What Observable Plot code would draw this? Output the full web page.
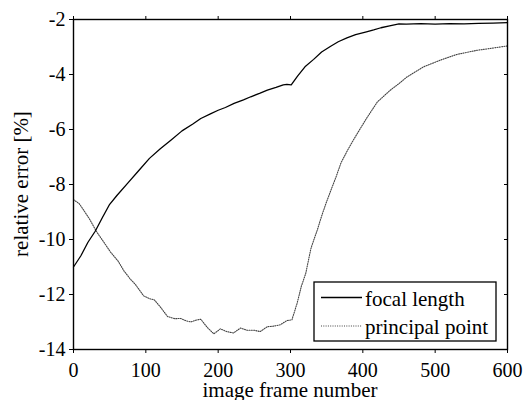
<!DOCTYPE html>
<html>
<head>
<meta charset="utf-8">
<script src="https://cdn.jsdelivr.net/npm/d3@7"></script>
<script src="https://cdn.jsdelivr.net/npm/@observablehq/plot@0.6"></script>
<style>
  body { margin: 0; background: #fff; font-family: "Liberation Serif"; }
  #chart { width: 525px; height: 400px; font-family: "Liberation Serif"; }
</style>
</head>
<body>
<div id="chart"></div>
<script>
// ---- data ----
const focalFrames = [0,10,20,30,40,50,60,75,90,105,120,135,150,165,176,190,200,210,222,235,245,258,268,280,290,295,301,310,320,332,343,355,366,378,390,405,415,425,437,450,460,480,500,520,540,560,580,600];
const focalError  = [-11.0,-10.6,-10.1,-9.7,-9.2,-8.72,-8.4,-7.95,-7.5,-7.05,-6.7,-6.38,-6.05,-5.8,-5.6,-5.42,-5.3,-5.2,-5.05,-4.92,-4.81,-4.68,-4.57,-4.47,-4.38,-4.36,-4.38,-4.05,-3.72,-3.45,-3.18,-2.98,-2.81,-2.67,-2.55,-2.45,-2.38,-2.3,-2.23,-2.16,-2.17,-2.15,-2.17,-2.15,-2.16,-2.14,-2.13,-2.11];

const ppFrames = [0,8,14,22,32,42,51,62,70,78,86,97,105,112,120,130,140,148,155,162,170,176,185,194,203,212,221,231,240,250,258,268,277,286,295,302,309,315,321,328,332,337,343,349,356,363,370,379,387,395,405,420,438,450,461,484,507,530,558,577,600];
const ppError  = [-8.55,-8.7,-8.93,-9.25,-9.72,-10.1,-10.45,-10.8,-11.15,-11.42,-11.65,-12.05,-12.15,-12.2,-12.45,-12.8,-12.88,-12.87,-12.95,-13.0,-12.93,-12.9,-13.2,-13.43,-13.25,-13.35,-13.4,-13.22,-13.3,-13.3,-13.35,-13.17,-13.15,-13.1,-12.95,-12.92,-12.33,-11.7,-11.24,-10.35,-10.03,-9.66,-9.15,-8.69,-8.2,-7.72,-7.2,-6.75,-6.38,-6.03,-5.6,-5.0,-4.57,-4.33,-4.09,-3.72,-3.48,-3.27,-3.12,-3.05,-2.96];

const xTicks = [0,100,200,300,400,500,600];
const yTicks = [-14,-12,-10,-8,-6,-4,-2];
const seriesNames = ["focal length","principal point"];
const xLabel = "image frame number";
const yLabel = "relative error [%]";

const focal = focalFrames.map((f,i) => ({frame:f, err:focalError[i]}));
const pp = ppFrames.map((f,i) => ({frame:f, err:ppError[i]}));

const W = 525, H = 400;
const mL = 73, mR = 18, mT = 19, mB = 51;
const FF = "Liberation Serif";

const chart = Plot.plot({
  width: W, height: H,
  marginLeft: mL, marginRight: mR, marginTop: mT, marginBottom: mB,
  style: {fontSize: "20px", background: "#fff", color: "#000"},
  x: {domain: [0,600]},
  y: {domain: [-14,-2]},
  marks: [
    Plot.line(pp, {x:"frame", y:"err", stroke:"#444", strokeWidth:1.1, strokeDasharray:"1,1.3"}),
    Plot.line(focal, {x:"frame", y:"err", stroke:"#000", strokeWidth:1.3}),
    Plot.frame({stroke:"#000", strokeWidth:1.4}),
    Plot.axisX({anchor:"bottom", ticks:xTicks, tickSize:4, tickPadding:9, tickFormat:d=>String(d), label:null, fontSize:20}),
    Plot.axisY({anchor:"left", ticks:yTicks, tickSize:4, tickPadding:4, tickFormat:d=>String(d), label:null, fontSize:20}),
    Plot.axisX({anchor:"top", ticks:xTicks, tickSize:4, tickFormat:()=>"", label:null}),
    Plot.axisY({anchor:"right", ticks:yTicks, tickSize:-4, tickFormat:()=>"", label:null})
  ]
});
chart.style.fontFamily = FF;
document.getElementById("chart").appendChild(chart);

// axis titles and legend (pixel layout, not data)
const svg = d3.select(chart);
svg.append("text")
  .attr("x", (mL + W - mR)/2).attr("y", 397)
  .attr("text-anchor","middle").attr("font-size", 21)
  .attr("fill","#000").text(xLabel);
svg.append("text")
  .attr("transform", `translate(28,${(mT + H - mB)/2}) rotate(-90)`)
  .attr("text-anchor","middle").attr("font-size", 21)
  .attr("fill","#000").text(yLabel);

const lg = svg.append("g");
lg.append("rect").attr("x",314).attr("y",282).attr("width",182).attr("height",59)
  .attr("fill","#fff").attr("stroke","#000").attr("stroke-width",1.3);
lg.append("line").attr("x1",321).attr("x2",362).attr("y1",297.5).attr("y2",297.5)
  .attr("stroke","#000").attr("stroke-width",1.3);
lg.append("line").attr("x1",321).attr("x2",362).attr("y1",326).attr("y2",326)
  .attr("stroke","#444").attr("stroke-width",1.1).attr("stroke-dasharray","1,1.3");
lg.append("text").attr("x",365).attr("y",306).attr("text-anchor","start").attr("font-size",21)
  .attr("fill","#000").text(seriesNames[0]);
lg.append("text").attr("x",365).attr("y",334).attr("text-anchor","start").attr("font-size",21)
  .attr("fill","#000").text(seriesNames[1]);
svg.selectAll("text").style("font-family", FF);
</script>
</body>
</html>
